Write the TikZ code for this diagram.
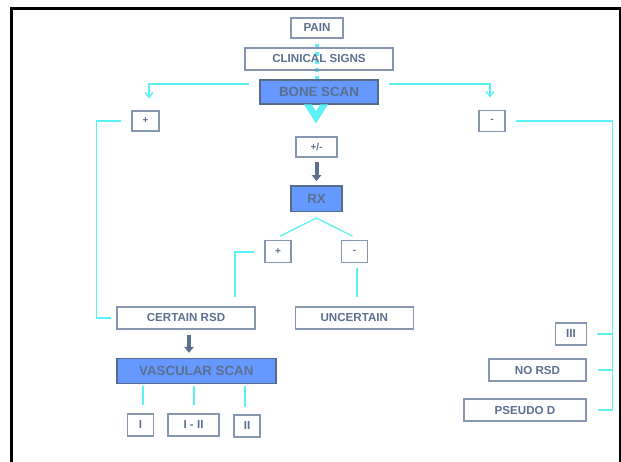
\documentclass[tikz,border=0pt]{standalone}
\usepackage{fontspec}
\setmainfont{Liberation Sans}
\usetikzlibrary{arrows.meta,calc}
\definecolor{txt}{HTML}{5B6F8E}
\definecolor{bord}{HTML}{8796B0}
\definecolor{bfill}{HTML}{6699FF}
\definecolor{bbord}{HTML}{566B8B}
\definecolor{cyl}{HTML}{5CF2F5}
\definecolor{slate}{HTML}{5B6F8E}
\pgfdeclarelayer{background}
\pgfsetlayers{background,main}
\begin{document}
\begin{tikzpicture}[x=1pt,y=-1pt,
 wbox/.style={draw=bord,line width=1.1pt,text=txt,font=\fontsize{11.6}{12}\selectfont\bfseries,inner sep=0pt,minimum height=22pt},
 sbox/.style={wbox,font=\fontsize{10}{11}\selectfont\bfseries,minimum height=20pt},
 bbox/.style={draw=bbord,fill=bfill,line width=1.5pt,text=txt,font=\fontsize{13.3}{14}\selectfont\bfseries,inner sep=0pt},
 link/.style={draw=cyl,line width=1.8pt},
 rxlink/.style={draw=cyl,line width=1.3pt},
 barb/.style={-{Straight Barb[length=5pt,width=8pt,line width=1.3pt]}},
 darkarrow/.style={draw=slate,line width=4pt,-{Triangle[length=6pt,width=10pt,line width=0pt]}},
 dashline/.style={draw=cyl,line width=4.5pt,dash pattern=on 4.5pt off 3.5pt},
 vhead/.style={fill=cyl}
 ]
\useasboundingbox (0,0) rectangle (621,461);
% frame
\draw[line width=2.6pt] (11.3,462) -- (11.3,8.7) -- (620.3,8.7) -- (620.3,462);

% nodes
\node[wbox,minimum width=52pt,minimum height=20pt] (pain) at (317,28) {PAIN};
\node[wbox,minimum width=148pt] (clin) at (319,59) {CLINICAL SIGNS};
\node[bbox,minimum width=118pt,minimum height=24pt] (bone) at (319,92) {BONE SCAN};
\node[sbox,minimum width=27pt] (lp) at (145.5,121) {+};
\node[sbox,minimum width=26pt,minimum height=21pt] (rm) at (492,121) {-};
\node[sbox,minimum width=41pt] (pm) at (316.5,147) {+/-};
\node[bbox,minimum width=51pt,minimum height=25.5pt] (rx) at (316.5,198.5) {RX};
\node[sbox,minimum width=26pt,minimum height=22pt] (rxp) at (278,251.7) {+};
\node[sbox,minimum width=26pt,minimum height=22pt] (rxm) at (354.5,251.7) {-};
\node[wbox,minimum width=138pt] (crsd) at (186,318) {CERTAIN RSD};
\node[wbox,minimum width=118pt] (unc) at (354.3,318) {UNCERTAIN};
\node[bbox,minimum width=159pt,minimum height=25pt] (vasc) at (196.3,371) {VASCULAR SCAN};
\node[wbox,minimum width=26pt] (v1) at (140.5,425) {I};
\node[wbox,minimum width=51pt] (v12) at (193.5,425) {I - II};
\node[wbox,minimum width=26pt] (v2) at (247,426) {II};
\node[wbox,minimum width=31pt] (iii) at (571,334) {III};
\node[wbox,minimum width=97pt] (norsd) at (537.5,370) {NO RSD};
\node[wbox,minimum width=122pt] (pseudo) at (525,410) {PSEUDO D};

% main dashed connector (passes behind BONE SCAN) and its V head
\begin{pgfonlayer}{background}
\draw[dashline,shorten <=5pt] (pain.south) -- (pain.south |- bone.south);
\end{pgfonlayer}
\coordinate (vtop) at ($(pm.north)+(-0.5,-32)$);
\fill[vhead] ($(vtop)+(-12,0)$) -- ($(vtop)+(-4,0)$) -- ($(vtop)+(0,7)$) -- ($(vtop)+(4,0)$) -- ($(vtop)+(12,0)$) -- ($(vtop)+(0,19)$) -- cycle;

% bone scan branches
\draw[link,barb] ([xshift=-10pt,yshift=8pt]bone.west) -| ([xshift=3.5pt,yshift=12pt]lp.north);
\draw[link,barb] ([xshift=10pt,yshift=8pt]bone.east) -| ([xshift=-2pt,yshift=12.5pt]rm.north);

% left + to certain rsd
\draw[link] ($(lp.west)+(-10,0)$) -| ($(crsd.west)+(-20,0)$) -- ($(crsd.west)+(-5,0)$);

% right - to III, NO RSD, PSEUDO D
\draw[link] ($(rm.east)+(10,0)$) -| ($(pseudo.east)+(26,0)$) -- ($(pseudo.east)+(11,0)$);
\draw[link] ($(iii.east -| pseudo.east)+(26,0)$) -- ($(iii.east)+(10,0)$);
\draw[link] ($(norsd.east)+(26,0)$) -- ($(norsd.east)+(11,0)$);

% dark arrows
\draw[darkarrow] ($(pm.south)+(0,4)$) -- ($(rx.north)+(0,-4)$);
\draw[darkarrow] ($(crsd.south)+(3,5)$) -- ($(vasc.north -| crsd.south)+(3,-5)$);

% RX branches
\draw[rxlink] ($(rx.south)+(0,6)$) -- ($(rxp.north)+(2,-4)$);
\draw[rxlink] ($(rx.south)+(0,6)$) -- ($(rxm.north)+(-2,-4)$);
\draw[link] ($(rxp.west)+(-10,0)$) -| ($(crsd.north)+(49,-9)$);
\draw[link] ($(rxm.south)+(2.5,5)$) -- ($(unc.north -| rxm.south)+(2.5,-9)$);

% vascular scan branches
\draw[link] ($(vasc.south -| v1.north)+(2.5,2)$) -- ($(v1.north)+(2.5,-8)$);
\draw[link] ($(vasc.south -| v12.north)+(0.5,2)$) -- ($(v12.north)+(0.5,-8)$);
\draw[link] ($(vasc.south -| v2.north)+(-2,2)$) -- ($(v2.north)+(-2,-7)$);
\end{tikzpicture}
\end{document}
